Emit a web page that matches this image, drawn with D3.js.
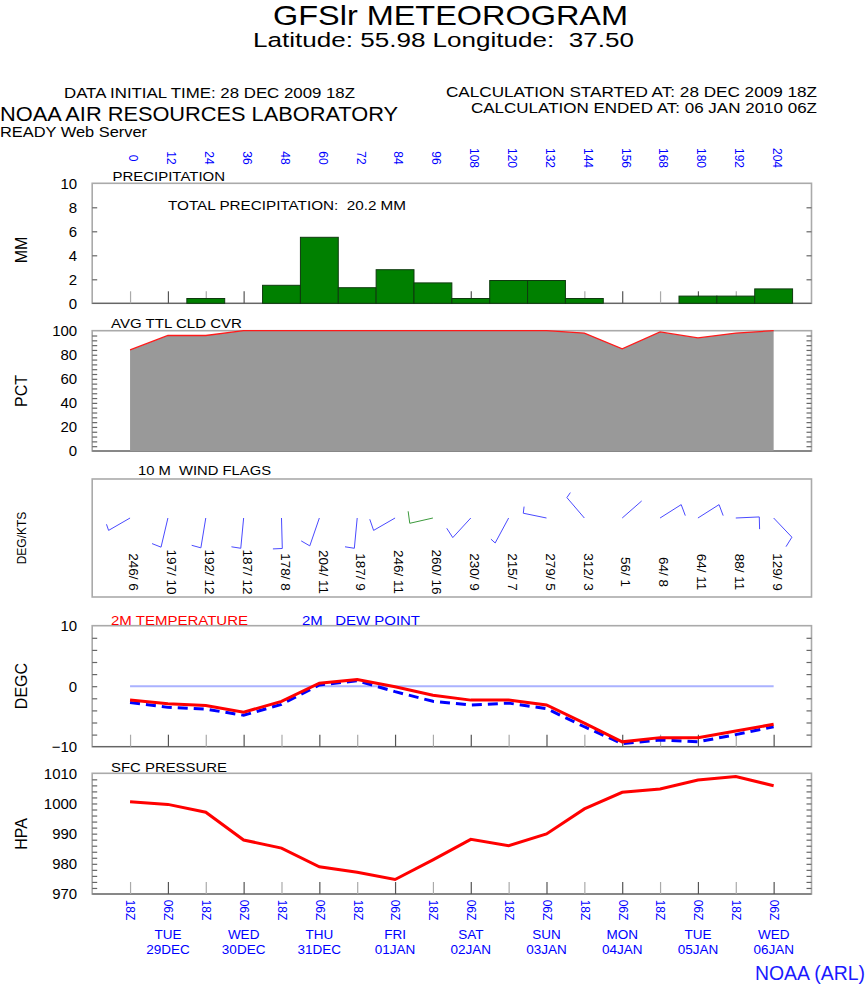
<!DOCTYPE html>
<html lang="en">
<head>
<meta charset="UTF-8">
<title>GFSlr Meteogram</title>
<script src="https://cdn.jsdelivr.net/npm/d3@7"></script>
<style>
  body { margin: 0; background: #fff; }
  svg text { font-family: "Liberation Sans", Arial, sans-serif; white-space: pre; }
</style>
</head>
<body>
<svg id="chart" width="868" height="985"></svg>
<script>
// forecast hours, one value per 12 h step
const hours = [0, 12, 24, 36, 48, 60, 72, 84, 96, 108, 120, 132, 144, 156, 168, 180, 192, 204];
const precip = [0, 0, 0.4, 0, 1.5, 5.5, 1.3, 2.8, 1.7, 0.4, 1.9, 1.9, 0.4, 0, 0, 0.6, 0.6, 1.2];
const cloud = [84, 96, 96, 100, 100, 100, 100, 100, 100, 100, 100, 100, 98, 85, 99, 94, 98, 100];
const windDir = [246, 197, 192, 187, 178, 204, 187, 246, 260, 230, 215, 279, 312, 56, 64, 64, 88, 129];
const windSpd = [6, 10, 12, 12, 8, 11, 9, 11, 16, 9, 7, 5, 3, 1, 8, 11, 11, 9];
const temp = [-2.3, -2.9, -3.2, -4.3, -2.5, 0.5, 1.1, -0.1, -1.5, -2.3, -2.3, -3.1, -6.1, -9.2, -8.5, -8.5, -7.4, -6.3];
const dewpt = [-2.7, -3.5, -3.8, -4.8, -3.0, 0.2, 0.9, -0.9, -2.5, -3.1, -2.8, -3.7, -6.7, -9.5, -8.9, -9.2, -8.0, -6.7];
const pressure = [1000.6, 999.7, 997.1, 987.9, 985.2, 979.0, 977.2, 974.8, 981.3, 988.1, 986.0, 989.9, 998.2, 1003.7, 1004.8, 1007.8, 1008.9, 1005.9];
const zLabels = ["18Z", "06Z", "18Z", "06Z", "18Z", "06Z", "18Z", "06Z", "18Z", "06Z", "18Z", "06Z", "18Z", "06Z", "18Z", "06Z", "18Z", "06Z"];
const dayHours = [12, 36, 60, 84, 108, 132, 156, 180, 204];
const dayNames = ["TUE", "WED", "THU", "FRI", "SAT", "SUN", "MON", "TUE", "WED"];
const dayDates = ["29DEC", "30DEC", "31DEC", "01JAN", "02JAN", "03JAN", "04JAN", "05JAN", "06JAN"];

const svg = d3.select("#chart");
const blue = "#0000ff";
const fontFam = "Liberation Sans, Arial, sans-serif";

const x = d3.scaleLinear().domain([-12, 216]).range([92.2, 811.5]);

const yPrecip = d3.scaleLinear().domain([0, 10]).range([303.3, 183.3]);
const yCloud = d3.scaleLinear().domain([0, 100]).range([451, 330.7]);
const yTemp = d3.scaleLinear().domain([-10, 10]).range([746.7, 625.7]);
const yPres = d3.scaleLinear().domain([970, 1010]).range([894, 773.3]);

function label(txt, px, py, size, opts = {}) {
  const t = svg.append("text").attr("x", px).attr("y", py)
    .attr("font-size", size).attr("fill", opts.fill || "#000")
    .attr("text-anchor", opts.anchor || "start").text(txt);
  if (opts.len) t.attr("textLength", opts.len).attr("lengthAdjust", "spacingAndGlyphs");
  if (opts.rotate) t.attr("transform", `rotate(${opts.rotate},${px},${py})`);
  return t;
}

// header
label("GFSlr METEOROGRAM", 273, 24.5, 28, {len: 355});
label("Latitude: 55.98 Longitude:  37.50", 253, 46.5, 20.5, {len: 381});
label("DATA INITIAL TIME: 28 DEC 2009 18Z", 64, 97.5, 15.5, {len: 291});
label("NOAA AIR RESOURCES LABORATORY", 0, 121, 20, {len: 398});
label("READY Web Server", 0, 137, 14.5, {len: 147});
label("CALCULATION STARTED AT: 28 DEC 2009 18Z", 446, 97, 15.5, {len: 371});
label("CALCULATION ENDED AT: 06 JAN 2010 06Z", 471, 112.5, 15.5, {len: 346});

function frame(y0, y1) {
  svg.append("rect")
    .attr("x", x(-12)).attr("y", y0)
    .attr("width", x(216) - x(-12)).attr("height", y1 - y0)
    .attr("fill", "none").attr("stroke", "#aaa").attr("stroke-width", 1.6);
  svg.append("line")
    .attr("x1", x(-12)).attr("x2", x(216)).attr("y1", y1).attr("y2", y1)
    .attr("stroke", "#555").attr("stroke-width", 1);
}

function yAxis(scale, labels, minor) {
  const gl = svg.append("g").attr("transform", `translate(${x(-12)},0)`)
    .call(d3.axisLeft(scale).tickValues(labels).tickSize(0).tickPadding(15).tickFormat(d3.format("d")));
  gl.select(".domain").remove();
  gl.selectAll("text").attr("font-size", 15).attr("font-family", fontFam).attr("fill", "#000");

  const tl = svg.append("g").attr("transform", `translate(${x(-12)},0)`)
    .call(d3.axisLeft(scale).tickValues(minor).tickSize(-5).tickFormat(""));
  const tr = svg.append("g").attr("transform", `translate(${x(216)},0)`)
    .call(d3.axisRight(scale).tickValues(minor).tickSize(-5).tickFormat(""));
  [tl, tr].forEach(g => {
    g.select(".domain").remove();
    g.selectAll("line").attr("stroke", "#666").attr("stroke-width", 1.2);
  });
}

function bottomTicks(yb) {
  const g = svg.append("g").attr("transform", `translate(0,${yb})`)
    .call(d3.axisTop(x).tickValues(hours).tickSize(12).tickFormat(""));
  g.select(".domain").remove();
  g.selectAll("line").attr("stroke", (d, i) => i % 2 ? "#555" : "#aaa").attr("stroke-width", 1.2);
}

// top hour axis
const topAx = svg.append("g").attr("transform", "translate(3,158)")
  .call(d3.axisTop(x).tickValues(hours).tickSize(0));
topAx.select(".domain").remove();
topAx.selectAll("text")
  .attr("x", 0).attr("y", 0).attr("dy", "0.35em")
  .attr("text-anchor", "middle")
  .attr("transform", "rotate(90)")
  .attr("font-size", 12).attr("font-family", fontFam)
  .attr("fill", blue);

// precipitation
frame(183.3, 303.3);
label("PRECIPITATION", 112.5, 180.7, 13, {len: 112.5});
label("TOTAL PRECIPITATION:  20.2 MM", 168, 210, 13.5, {len: 238});
label("MM", 27, 250, 16, {anchor: "middle", rotate: -90});
bottomTicks(303.3);
svg.append("g").selectAll("rect")
  .data(hours.map((h, i) => ({h, v: precip[i]})).filter(d => d.v > 0))
  .join("rect")
  .attr("x", d => x(d.h - 6))
  .attr("width", d => x(d.h + 6) - x(d.h - 6))
  .attr("y", d => yPrecip(d.v))
  .attr("height", d => yPrecip(0) - yPrecip(d.v))
  .attr("fill", "#008000").attr("stroke", "#0f3a0f").attr("stroke-width", 1);
yAxis(yPrecip, [0, 2, 4, 6, 8, 10], [2, 4, 6, 8]);

// cloud cover
frame(330.7, 451);
label("AVG TTL CLD CVR", 111, 328, 13, {len: 131});
label("PCT", 27, 391, 16, {anchor: "middle", rotate: -90});
const cloudArea = d3.area().x((d, i) => x(hours[i])).y0(yCloud(0)).y1(d => yCloud(d));
svg.append("path").datum(cloud).attr("d", cloudArea).attr("fill", "#999999");
svg.append("path").datum(cloud)
  .attr("d", d3.line().x((d, i) => x(hours[i])).y(d => yCloud(d)))
  .attr("fill", "none").attr("stroke", "#ff1a1a").attr("stroke-width", 1.3);
yAxis(yCloud, [0, 20, 40, 60, 80, 100], d3.range(4, 100, 4));

// wind flags
svg.append("rect")
  .attr("x", x(-12)).attr("y", 479)
  .attr("width", x(216) - x(-12)).attr("height", 118)
  .attr("fill", "none").attr("stroke", "#aaa").attr("stroke-width", 1.6);
label("10 M  WIND FLAGS", 138, 475, 13, {len: 133});
label("DEG/KTS", 26, 538, 12, {anchor: "middle", rotate: -90});

const stationY = 518, lenX = 23.5, lenY = 30.5;
function flagPath(dir, spd) {
  const a = dir * Math.PI / 180;
  const sx = Math.sin(a), sy = -Math.cos(a);
  const ex = sx * lenX, ey = sy * lenY;
  let p = `M0,0L${ex},${ey}`;
  const k = spd < 2.5 ? 0 : (spd < 7.5 ? 0.22 : 0.4);
  if (k > 0) p += `L${ex - sy * k * lenX},${ey + sx * k * lenY}`;
  return p;
}
const flags = svg.append("g").selectAll("g")
  .data(hours.map((h, i) => ({h, dir: windDir[i], spd: windSpd[i]})))
  .join("g")
  .attr("transform", d => `translate(${x(d.h)},${stationY})`);
flags.append("path")
  .attr("d", d => flagPath(d.dir, d.spd))
  .attr("fill", "none")
  .attr("stroke", d => d.spd >= 15 ? "#3c9a3c" : "#4a4aff")
  .attr("stroke-width", 1);
flags.append("text")
  .attr("transform", "translate(4,54) rotate(90)")
  .attr("text-anchor", "middle").attr("dy", "0.35em")
  .attr("font-size", 13.5).attr("fill", "#000")
  .text(d => `${d.dir}/ ${d.spd}`);

// temperature
frame(625.7, 746.7);
label("2M TEMPERATURE", 111, 625, 13.5, {fill: "#ff0000", len: 137});
label("2M   DEW POINT", 302, 625, 13.5, {fill: blue, len: 118});
label("DEGC", 27, 686, 16, {anchor: "middle", rotate: -90});
bottomTicks(746.7);
svg.append("line")
  .attr("x1", x(0)).attr("x2", x(204)).attr("y1", yTemp(0)).attr("y2", yTemp(0))
  .attr("stroke", "#aab2ff").attr("stroke-width", 2);
const lineT = d3.line().x((d, i) => x(hours[i])).y(d => yTemp(d));
svg.append("path").datum(dewpt).attr("d", lineT)
  .attr("fill", "none").attr("stroke", blue).attr("stroke-width", 3).attr("stroke-dasharray", "10,6");
svg.append("path").datum(temp).attr("d", lineT)
  .attr("fill", "none").attr("stroke", "#ff0000").attr("stroke-width", 3);
yAxis(yTemp, [-10, 0, 10], d3.range(-8, 10, 2));

// pressure
frame(773.3, 894);
label("SFC PRESSURE", 111, 771.5, 13.5, {len: 116});
label("HPA", 27, 834, 16, {anchor: "middle", rotate: -90});
bottomTicks(894);
svg.append("path").datum(pressure)
  .attr("d", d3.line().x((d, i) => x(hours[i])).y(d => yPres(d)))
  .attr("fill", "none").attr("stroke", "#ff0000").attr("stroke-width", 3);
yAxis(yPres, [970, 980, 990, 1000, 1010], d3.range(972, 1010, 2));

// time axis
const botAx = svg.append("g").attr("transform", "translate(0,910)")
  .call(d3.axisBottom(x).tickValues(hours).tickSize(0).tickFormat((d, i) => zLabels[i]));
botAx.select(".domain").remove();
botAx.selectAll("text")
  .attr("x", 0).attr("y", 0).attr("dy", "0.35em")
  .attr("text-anchor", "middle")
  .attr("transform", "rotate(90)")
  .attr("font-size", 12).attr("font-family", fontFam)
  .attr("fill", blue);

const days = svg.append("g").selectAll("g")
  .data(dayHours.map((h, i) => ({h, name: dayNames[i], date: dayDates[i]})))
  .join("g")
  .attr("transform", d => `translate(${x(d.h)},0)`);
days.append("text").attr("y", 939).attr("text-anchor", "middle")
  .attr("font-size", 13.5).attr("fill", blue).text(d => d.name);
days.append("text").attr("y", 954).attr("text-anchor", "middle")
  .attr("font-size", 13.5).attr("fill", blue).text(d => d.date);

label("NOAA (ARL)", 755, 980, 20, {fill: "#1a1aff", len: 110});
</script>
</body>
</html>
